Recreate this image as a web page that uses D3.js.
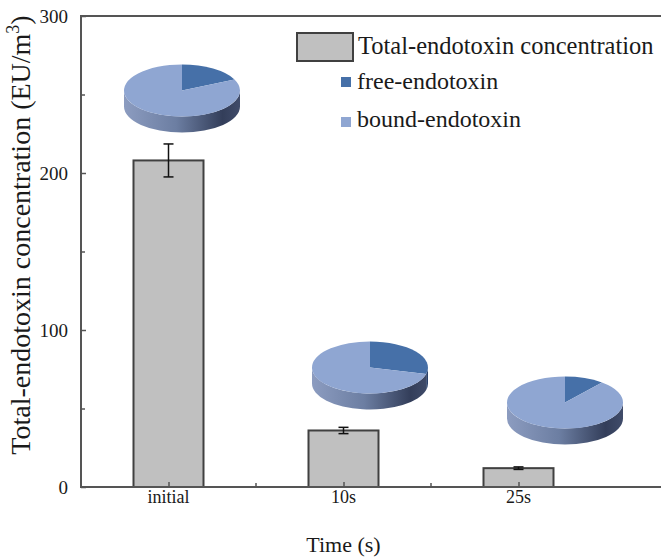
<!DOCTYPE html>
<html>
<head>
<meta charset="utf-8">
<script src="https://cdn.jsdelivr.net/npm/d3@7/dist/d3.min.js"></script>
<style>
  html, body { margin: 0; padding: 0; background: #fff; }
  svg { display: block; }
</style>
</head>
<body>
<svg id="chart" width="661" height="559" font-family="'Liberation Serif', 'DejaVu Serif', serif"></svg>
<script>
// Total endotoxin concentration over treatment time
const categories = ["initial", "10s", "25s"];
const totalValues = [208, 36, 12];
const totalErrors = [10.5, 2, 0.8];
// share of free endotoxin in each sample (rest is bound)
const freeShare = [0.18, 0.29, 0.11];
const yTicksMajor = [0, 100, 200, 300];
const yTicksMinor = [50, 150, 250];
const legendLabels = ["Total-endotoxin concentration", "free-endotoxin", "bound-endotoxin"];

// layout of the inset pies (centre offsets from each bar centre)
const pieOffsets = [[13.5, 90.5], [26.5, 367.5], [46.5, 402.5]];
const pieRx = 58, pieRy = 26, pieDepth = 16;

const colors = {
  bar: "#c0c0c0",
  barStroke: "#404040",
  axis: "#555555",
  text: "#1a1a1a",
  free: "#4670a8",
  bound: "#8fa6d2",
  freeSide: "#2a416a"
};
const serif = "'Liberation Serif', 'Times New Roman', serif";

const svg = d3.select("#chart");
const plotLeft = 81, plotRight = 606, plotTop = 16, plotBottom = 487;

const x = d3.scalePoint().domain(categories).range([plotLeft, plotRight]).padding(0.5);
const step = x.step();
const barW = step * 0.4;
const y = d3.scaleLinear().domain([0, 300]).range([plotBottom, plotTop]);

// gradient for the rim of the pies
const defs = svg.append("defs");
const grad = defs.append("linearGradient")
  .attr("id", "rim").attr("gradientUnits", "userSpaceOnUse")
  .attr("x1", -pieRx).attr("x2", pieRx).attr("y1", 0).attr("y2", 0);
[[0, "#8c9cc0"], [0.45, "#6c7ea2"], [0.85, "#333e5a"], [1, "#404c6a"]]
  .forEach(([o, c]) => grad.append("stop").attr("offset", o).attr("stop-color", c));

// bars
const bars = svg.append("g");
bars.selectAll("rect").data(categories).join("rect")
  .attr("x", d => x(d) - barW / 2)
  .attr("y", (d, i) => y(totalValues[i]))
  .attr("width", barW)
  .attr("height", (d, i) => y(0) - y(totalValues[i]))
  .attr("fill", colors.bar)
  .attr("stroke", colors.barStroke)
  .attr("stroke-width", 2);

// error bars
const err = svg.append("g").attr("stroke", "#111").attr("stroke-width", 1.5).attr("fill", "none");
categories.forEach((c, i) => {
  const cx = x(c);
  const yt = y(totalValues[i] + totalErrors[i]);
  const yb = y(totalValues[i] - totalErrors[i]);
  err.append("line").attr("x1", cx).attr("x2", cx).attr("y1", yt).attr("y2", yb);
  err.append("line").attr("x1", cx - 5).attr("x2", cx + 5).attr("y1", yt).attr("y2", yt);
  err.append("line").attr("x1", cx - 5).attr("x2", cx + 5).attr("y1", yb).attr("y2", yb);
});

// frame: left, bottom and top lines
const frame = svg.append("g").attr("stroke", colors.axis).attr("stroke-width", 2).attr("fill", "none");
frame.append("path").attr("d", `M670,${plotTop}H${plotLeft}V${plotBottom}H670`);

// y axis ticks (inward) and labels
const yAxis = d3.axisRight(y).tickValues(yTicksMajor).tickSize(5).tickFormat("");
const yg = svg.append("g").attr("transform", `translate(${plotLeft},0)`).call(yAxis);
yg.select(".domain").remove();
yg.selectAll(".tick line").attr("stroke", colors.axis).attr("stroke-width", 1.5);
const yMinor = d3.axisRight(y).tickValues(yTicksMinor).tickSize(4).tickFormat("");
const ym = svg.append("g").attr("transform", `translate(${plotLeft},0)`).call(yMinor);
ym.select(".domain").remove();
ym.selectAll(".tick line").attr("stroke", colors.axis).attr("stroke-width", 1.5);

svg.append("g").selectAll("text").data(yTicksMajor).join("text")
  .attr("x", 68).attr("y", d => y(d))
  .attr("dy", "0.35em")
  .attr("text-anchor", "end")
  .attr("font-family", serif).attr("fill", colors.text)
  .attr("font-size", 19)
  .text(d => d);

// x axis ticks (inward) at categories and between them
const xAxis = d3.axisTop(x).tickSize(5).tickFormat("");
const xg = svg.append("g").attr("transform", `translate(0,${plotBottom})`).call(xAxis);
xg.select(".domain").remove();
xg.selectAll(".tick line").attr("stroke", colors.axis).attr("stroke-width", 1.5);
const mids = categories.slice(1).map((c, i) => (x(categories[i]) + x(c)) / 2);
svg.append("g").selectAll("line").data(mids).join("line")
  .attr("x1", d => d).attr("x2", d => d)
  .attr("y1", plotBottom).attr("y2", plotBottom - 4)
  .attr("stroke", colors.axis).attr("stroke-width", 1.5);

svg.append("g").selectAll("text").data(categories).join("text")
  .attr("x", d => x(d)).attr("y", 503)
  .attr("text-anchor", "middle")
  .attr("font-family", serif).attr("fill", colors.text)
  .attr("font-size", 18)
  .text(d => d);

// axis titles
svg.append("text")
  .attr("x", x(categories[1])).attr("y", 552)
  .attr("text-anchor", "middle").attr("font-size", 22)
  .attr("font-family", serif).attr("fill", colors.text)
  .text("Time (s)");

const yTitle = svg.append("text")
  .attr("transform", "translate(30,235) rotate(-90)")
  .attr("text-anchor", "middle").attr("font-size", 28)
  .attr("font-family", serif).attr("fill", colors.text);
yTitle.append("tspan").text("Total-endotoxin concentration (EU/m");
yTitle.append("tspan").attr("font-size", 18).attr("dy", -11).text("3");
yTitle.append("tspan").attr("dy", 11).text(")");

// 3D inset pies
const pie = d3.pie().sort(null).value(d => d);
const arc = d3.arc().innerRadius(0).outerRadius(pieRx);
const sy = pieRy / pieRx;
const D = pieDepth / sy;
const P = a => [pieRx * Math.sin(a), -pieRx * Math.cos(a)];

categories.forEach((c, i) => {
  const cx = x(c) + pieOffsets[i][0];
  const cy = pieOffsets[i][1];
  const g = svg.append("g").attr("transform", `translate(${cx},${cy}) scale(1,${sy})`);
  const slices = pie([freeShare[i], 1 - freeShare[i]]);

  // visible rim for each slice (front half of the disc)
  slices.forEach((s, k) => {
    const v0 = Math.max(s.startAngle, Math.PI / 2);
    const v1 = Math.min(s.endAngle, 3 * Math.PI / 2);
    if (v1 <= v0) return;
    const p0 = P(v0), p1 = P(v1);
    const large = v1 - v0 > Math.PI ? 1 : 0;
    const d = `M${p0[0]},${p0[1]} A${pieRx},${pieRx} 0 ${large} 1 ${p1[0]},${p1[1]}` +
      ` L${p1[0]},${p1[1] + D} A${pieRx},${pieRx} 0 ${large} 0 ${p0[0]},${p0[1] + D} Z`;
    g.append("path").attr("d", d)
      .attr("fill", k === 0 ? colors.freeSide : "url(#rim)");
  });

  // top face
  g.selectAll("path.top").data(slices).join("path")
    .attr("class", "top")
    .attr("d", arc)
    .attr("fill", (d, k) => k === 0 ? colors.free : colors.bound);
});

// legend
const lg = svg.append("g").attr("font-family", serif).attr("fill", colors.text);
lg.append("rect").attr("x", 297).attr("y", 33).attr("width", 56).attr("height", 28)
  .attr("fill", colors.bar).attr("stroke", colors.barStroke).attr("stroke-width", 2);
lg.append("text").attr("x", 358).attr("y", 54).attr("font-size", 24.5).text(legendLabels[0]);
lg.append("rect").attr("x", 341).attr("y", 77).attr("width", 10).attr("height", 10).attr("fill", colors.free);
lg.append("text").attr("x", 357).attr("y", 89).attr("font-size", 24).text(legendLabels[1]);
lg.append("rect").attr("x", 341).attr("y", 117).attr("width", 10).attr("height", 10).attr("fill", colors.bound);
lg.append("text").attr("x", 357).attr("y", 127).attr("font-size", 24).text(legendLabels[2]);
</script>
</body>
</html>
